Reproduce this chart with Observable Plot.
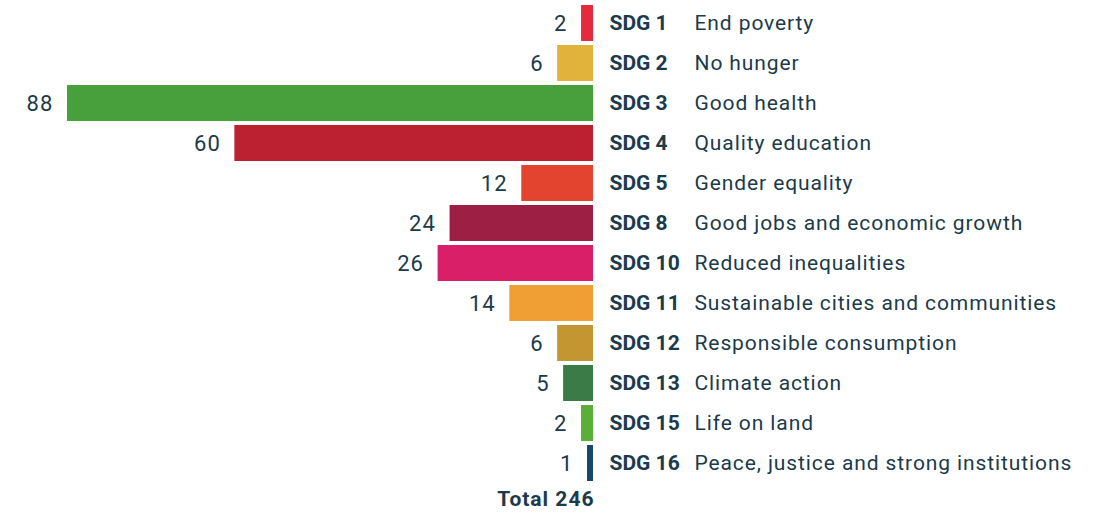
<!DOCTYPE html>
<html>
<head>
<meta charset="utf-8">
<script src="https://cdn.jsdelivr.net/npm/d3@7"></script>
<script src="https://cdn.jsdelivr.net/npm/@observablehq/plot@0.6"></script>
<style>
  html, body { margin: 0; padding: 0; background: #fff; }
  #chart svg { display: block; }
</style>
</head>
<body>
<div id="chart"></div>
<script>
const codes = ["SDG 1","SDG 2","SDG 3","SDG 4","SDG 5","SDG 8","SDG 10","SDG 11","SDG 12","SDG 13","SDG 15","SDG 16"];
const names = ["End poverty","No hunger","Good health","Quality education","Gender equality","Good jobs and economic growth","Reduced inequalities","Sustainable cities and communities","Responsible consumption","Climate action","Life on land","Peace, justice and strong institutions"];
const values = [2, 6, 88, 60, 12, 24, 26, 14, 6, 5, 2, 1];
const colors = ["#e52a3d","#e1b33a","#47a03b","#bb2130","#e34430","#9d1f44","#da1f69","#f09f35","#c39631","#3a7b47","#5aaf37","#17486b"];
const totalLabel = "Total";

const data = codes.map((c, i) => ({code: c, name: names[i], value: values[i], color: colors[i]}));
const total = d3.sum(values);
const ink = "#1b3a4b";
const font = "Roboto, 'Open Sans', sans-serif";

const chart = Plot.plot({
  width: 1098,
  height: 514,
  marginLeft: 67,
  marginRight: 505,
  marginTop: 0,
  marginBottom: 0,
  style: {fontFamily: font, color: ink, background: "#fff"},
  x: {domain: [0, 88], reverse: true, axis: null},
  y: {domain: [...codes, totalLabel], range: [3, 523], paddingInner: 0.1, paddingOuter: 0.05, axis: null},
  marks: [
    Plot.barX(data, {x: "value", y: "code", fill: "color"}),
    Plot.text(data, {x: "value", y: "code", text: d => String(d.value), textAnchor: "end", dx: -14, fontSize: 22, fill: ink}),
    Plot.text(data, {x: 0, y: "code", text: "code", textAnchor: "start", dx: 16, fontSize: 21, fontWeight: "bold", fill: ink}),
    Plot.text(data, {x: 0, y: "code", text: "name", textAnchor: "start", dx: 101, fontSize: 21, fill: ink}),
    Plot.text([{code: totalLabel}], {x: 0, y: "code", text: () => `Total ${total}`, textAnchor: "end", dx: 1, dy: -4, fontSize: 21, fontWeight: "bold", fill: ink})
  ]
});
// widen the lettering of the value, description and total labels
const textGroups = chart.querySelectorAll('g[aria-label="text"]');
const spacing = ["1.1px", null, "0.9px", "1px"];
textGroups.forEach((g, i) => {
  if (spacing[i]) {
    g.setAttribute("letter-spacing", spacing[i]);
    g.style.letterSpacing = spacing[i];
  }
});
document.getElementById("chart").appendChild(chart);
</script>
</body>
</html>
